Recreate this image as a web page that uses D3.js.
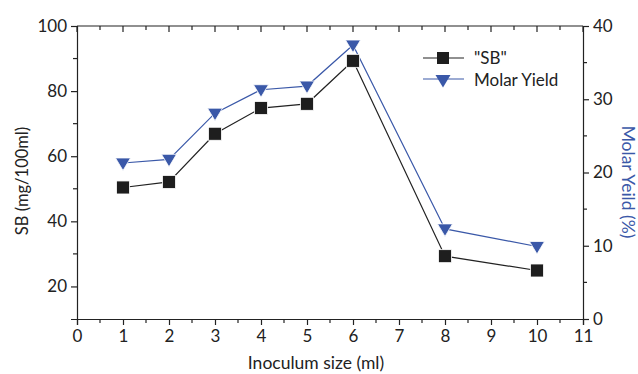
<!DOCTYPE html>
<html>
<head>
<meta charset="utf-8">
<script src="https://cdn.jsdelivr.net/npm/d3@7"></script>
<style>
  body { margin: 0; background: #fff; }
  svg text { font-family: Lato, "Open Sans", sans-serif; }
</style>
</head>
<body>
<div id="chart"></div>
<script>
// data
const inoculum = [1, 2, 3, 4, 5, 6, 8, 10];
const sbValues = [50.4, 52.1, 66.9, 74.8, 76.1, 89.3, 29.3, 24.9];
const molarYield = [21.3, 21.8, 28.1, 31.3, 31.8, 37.4, 12.3, 9.9];
const xTicks = [0, 1, 2, 3, 4, 5, 6, 7, 8, 9, 10, 11];
const leftTicks = [20, 40, 60, 80, 100];
const rightTicks = [0, 10, 20, 30, 40];

const width = 638, height = 374;
const blue = "#3a58a8";
const plotL = 77, plotR = 583, plotT = 26, plotB = 319;

const svg = d3.select("#chart").append("svg")
    .attr("width", width)
    .attr("height", height);

const x = d3.scaleLinear().domain([0, 11]).range([plotL, plotR]);
const yL = d3.scaleLinear().domain([10, 100]).range([plotB, plotT]);
const yR = d3.scaleLinear().domain([0, 40]).range([plotB, plotT]);

// top frame line
svg.append("line").attr("x1", plotL).attr("x2", plotR).attr("y1", plotT).attr("y2", plotT)
    .attr("stroke", "#222").attr("stroke-width", 1.2);

function styleAxis(g) {
  g.selectAll("path").attr("stroke", "#222").attr("stroke-width", 1.2);
  g.selectAll("line").attr("stroke", "#222").attr("stroke-width", 1.2);
  g.selectAll("text").attr("fill", "#222").style("font-size", "17px");
}

function tick(x1, x2, y1, y2) {
  svg.append("line").attr("x1", x1).attr("x2", x2).attr("y1", y1).attr("y2", y2)
      .attr("stroke", "#222").attr("stroke-width", 1.2);
}

// bottom axis
svg.append("g")
    .attr("transform", `translate(0,${plotB})`)
    .call(d3.axisBottom(x).tickValues(xTicks).tickFormat(d3.format("d")).tickSizeOuter(0).tickSize(6).tickPadding(5))
    .call(styleAxis);
d3.range(0.5, 11, 1).forEach(v => tick(x(v), x(v), plotB, plotB + 4));

// top ticks pointing inward
xTicks.forEach(v => tick(x(v), x(v), plotT, plotT + 6));
d3.range(0.5, 11, 1).forEach(v => tick(x(v), x(v), plotT, plotT + 4));

// left axis
svg.append("g")
    .attr("transform", `translate(${plotL},0)`)
    .call(d3.axisLeft(yL).tickValues(leftTicks).tickSizeOuter(0).tickSize(6).tickPadding(4))
    .call(styleAxis);
[30, 50, 70, 90].forEach(v => tick(plotL - 4, plotL, yL(v), yL(v)));

// right axis
svg.append("g")
    .attr("transform", `translate(${plotR},0)`)
    .call(d3.axisRight(yR).tickValues(rightTicks).tickSizeOuter(0).tickSize(6).tickPadding(4))
    .call(styleAxis);
[5, 15, 25, 35].forEach(v => tick(plotR, plotR + 4, yR(v), yR(v)));

// axis titles
svg.append("text")
    .attr("x", 316).attr("y", 369)
    .attr("text-anchor", "middle").style("font-size", "17.5px").attr("fill", "#222")
    .text("Inoculum size (ml)");

svg.append("text")
    .attr("transform", "translate(28,181) rotate(-90)")
    .attr("text-anchor", "middle").style("font-size", "16.5px").attr("fill", "#222")
    .text("SB (mg/100ml)");

svg.append("text")
    .attr("transform", "translate(622,182) rotate(90)")
    .attr("text-anchor", "middle").style("font-size", "17.5px").attr("fill", blue)
    .text("Molar Yeild (%)");

// series
const sbData = inoculum.map((d, i) => ({ x: d, y: sbValues[i] }));
const myData = inoculum.map((d, i) => ({ x: d, y: molarYield[i] }));

svg.append("path")
    .datum(myData)
    .attr("fill", "none").attr("stroke", blue).attr("stroke-width", 1.2)
    .attr("d", d3.line().x(d => x(d.x)).y(d => yR(d.y)));

svg.append("path")
    .datum(sbData)
    .attr("fill", "none").attr("stroke", "#222").attr("stroke-width", 1.2)
    .attr("d", d3.line().x(d => x(d.x)).y(d => yL(d.y)));

const tri = "M-7.5,-5 L7.5,-5 L0,7.5 Z";

svg.selectAll(".tri")
    .data(myData)
    .enter()
    .append("path")
    .attr("class", "tri")
    .attr("d", tri)
    .attr("transform", d => `translate(${x(d.x)},${yR(d.y)})`)
    .attr("fill", blue)
    .attr("stroke", "#fff").attr("stroke-width", 0.8);

svg.selectAll(".sq")
    .data(sbData)
    .enter()
    .append("rect")
    .attr("class", "sq")
    .attr("x", d => x(d.x) - 6.5)
    .attr("y", d => yL(d.y) - 6.5)
    .attr("width", 13).attr("height", 13)
    .attr("fill", "#1e1e1e")
    .attr("stroke", "#fff").attr("stroke-width", 0.8);

// legend
const lg = svg.append("g");
lg.append("line").attr("x1", 423).attr("x2", 464).attr("y1", 58).attr("y2", 58)
    .attr("stroke", "#222").attr("stroke-width", 1.2);
lg.append("rect").attr("x", 437).attr("y", 52).attr("width", 12).attr("height", 12).attr("fill", "#1e1e1e");
lg.append("text").attr("x", 474).attr("y", 64).style("font-size", "17px").attr("fill", "#222").text("\"SB\"");

lg.append("line").attr("x1", 423).attr("x2", 464).attr("y1", 79).attr("y2", 79)
    .attr("stroke", blue).attr("stroke-width", 1.2);
lg.append("path").attr("d", tri).attr("transform", "translate(443,80)").attr("fill", blue);
lg.append("text").attr("x", 474).attr("y", 86).style("font-size", "17px").attr("fill", "#222").text("Molar Yield");
</script>
</body>
</html>
